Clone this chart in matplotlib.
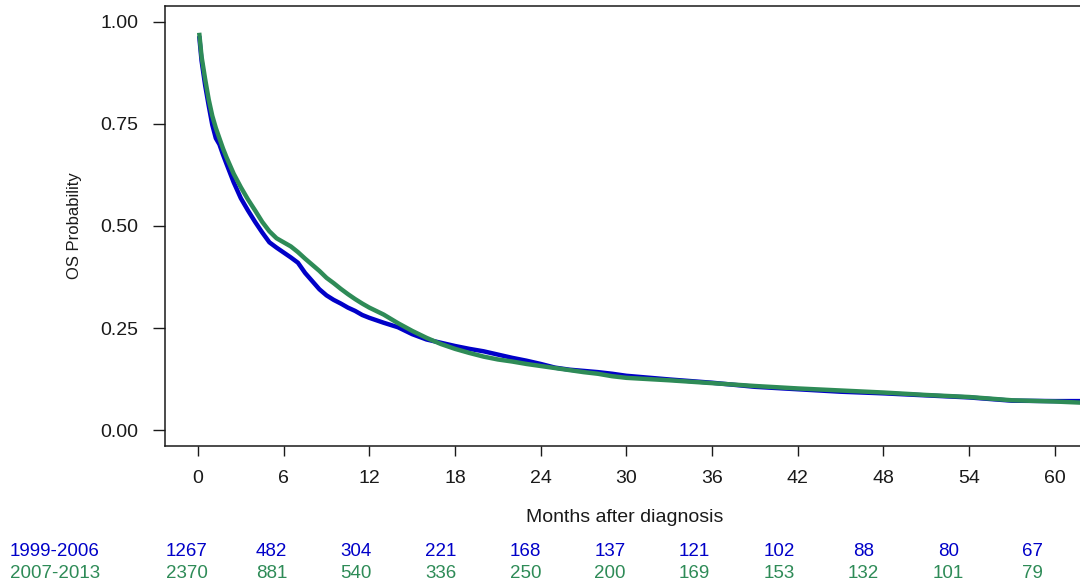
import matplotlib.pyplot as plt

plt.rcParams["font.family"] = ["Liberation Sans", "DejaVu Sans"]

# Survival estimates read at selected months
months = [0.1, 0.25, 0.5, 0.75, 1, 1.25, 1.5, 1.75, 2, 2.5, 3, 3.5, 4, 4.5, 5,
          5.5, 6, 6.5, 7, 7.5, 8, 8.5, 9, 9.5, 10, 10.5, 11, 11.5, 12, 13, 14,
          15, 16, 17, 18, 19, 20, 21, 22, 23, 24, 25, 26, 27, 28, 29, 30, 33,
          36, 39, 42, 45, 48, 51, 54, 57, 60, 62]
os_1999_2006 = [0.960, 0.905, 0.845, 0.795, 0.748, 0.715, 0.700, 0.675, 0.652,
                0.607, 0.568, 0.538, 0.510, 0.484, 0.460, 0.447, 0.435, 0.423,
                0.410, 0.385, 0.365, 0.345, 0.330, 0.319, 0.310, 0.300, 0.292,
                0.282, 0.275, 0.263, 0.252, 0.235, 0.222, 0.214, 0.206, 0.199,
                0.193, 0.185, 0.177, 0.170, 0.162, 0.153, 0.148, 0.145, 0.142,
                0.138, 0.133, 0.124, 0.116, 0.106, 0.100, 0.094, 0.090, 0.085,
                0.080, 0.072, 0.071, 0.071]
os_2007_2013 = [0.968, 0.915, 0.860, 0.810, 0.770, 0.740, 0.715, 0.690, 0.668,
                0.628, 0.595, 0.565, 0.538, 0.510, 0.487, 0.470, 0.460, 0.450,
                0.436, 0.420, 0.405, 0.390, 0.373, 0.360, 0.346, 0.333, 0.321,
                0.310, 0.300, 0.283, 0.262, 0.243, 0.226, 0.211, 0.199, 0.189,
                0.180, 0.173, 0.168, 0.162, 0.157, 0.152, 0.147, 0.142, 0.138,
                0.132, 0.128, 0.122, 0.115, 0.108, 0.102, 0.097, 0.092, 0.086,
                0.081, 0.073, 0.070, 0.067]

# Number at risk table
risk_times = [0, 6, 12, 18, 24, 30, 36, 42, 48, 54, 60]
risk_1999_2006 = [1267, 482, 304, 221, 168, 137, 121, 102, 88, 80, 67]
risk_2007_2013 = [2370, 881, 540, 336, 250, 200, 169, 153, 132, 101, 79]
groups = ["1999-2006", "2007-2013"]

BLUE = "#0000C8"
GREEN = "#2E8B57"
INK = "#1a1a1a"

fig = plt.figure(figsize=(10.8, 5.86), dpi=100)
W, H = 1080, 586

# main plot area, right edge runs off the figure
ax = fig.add_axes([165 / W, 1 - 446 / H, 917 / W, 440 / H])
ax.plot(months, os_1999_2006, color=BLUE, linewidth=3.2)
ax.plot(months, os_2007_2013, color=GREEN, linewidth=3.2)

ax.set_xlim(-2.31, 61.9)
ax.set_ylim(-0.039, 1.039)
ax.set_xticks(range(0, 61, 6))
ax.set_yticks([0, 0.25, 0.5, 0.75, 1.0])
ax.set_yticklabels(["0.00", "0.25", "0.50", "0.75", "1.00"])
ax.tick_params(axis="x", length=7.5, width=1.0, pad=10, labelsize=14,
               color=INK, labelcolor=INK)
ax.tick_params(axis="y", length=9, width=1.0, pad=10, labelsize=14,
               color=INK, labelcolor=INK)
for side in ["left", "bottom", "top"]:
    ax.spines[side].set_linewidth(1.1)
    ax.spines[side].set_color(INK)
ax.spines["right"].set_visible(False)

fig.text(75 / W, 1 - 226 / H, "OS Probability", rotation=90,
         ha="center", va="center", fontsize=12, color=INK)
fig.text(625 / W, 1 - 517 / H, "Months after diagnosis",
         ha="center", va="center", fontsize=14, color=INK)

# risk table below the x axis
tab = fig.add_axes([165 / W, 0, 917 / W, 0.1])
tab.set_axis_off()
tab.set_xlim(-1.56, 63.48)
tab.set_ylim(0, 1)
row_y = [1 - 551 / H, 1 - 573 / H]
for yy, counts, color, name in zip(row_y, [risk_1999_2006, risk_2007_2013],
                                   [BLUE, GREEN], groups):
    fig.text(10 / W, yy, name, ha="left", va="center", fontsize=13.5, color=color)
    for t, n in zip(risk_times, counts):
        tab.text(t, yy / 0.1, str(n), ha="center", va="center",
                 fontsize=13.5, color=color, clip_on=False)

plt.savefig("out.png", dpi=100)
